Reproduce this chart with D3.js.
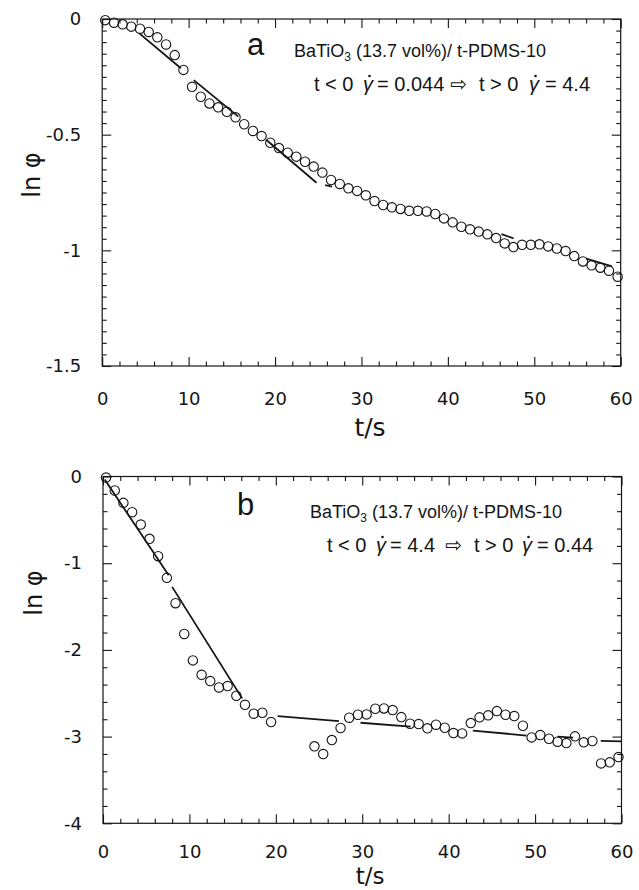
<!DOCTYPE html>
<html>
<head>
<meta charset="utf-8">
<script src="https://cdn.jsdelivr.net/npm/d3@7/dist/d3.min.js"></script>
<style>
  html, body { margin: 0; padding: 0; background: #fff; }
  svg { display: block; }
</style>
</head>
<body>
<script>
// Sampling times (s), shared by both runs
const times = [0.35, 1.36, 2.36, 3.37, 4.37, 5.38, 6.38, 7.39, 8.39, 9.40,
  10.40, 11.41, 12.41, 13.42, 14.42, 15.43, 16.43, 17.44, 18.44, 19.45,
  20.45, 21.46, 22.46, 23.47, 24.47, 25.48, 26.48, 27.49, 28.49, 29.50,
  30.50, 31.51, 32.51, 33.52, 34.52, 35.53, 36.53, 37.54, 38.54, 39.55,
  40.55, 41.56, 42.56, 43.57, 44.57, 45.58, 46.58, 47.59, 48.59, 49.60,
  50.60, 51.61, 52.61, 53.62, 54.62, 55.63, 56.63, 57.64, 58.64, 59.65];

// (a) shear rate step 0.044 -> 4.4 : ln(phi)
const lnPhiA = [-0.005, -0.016, -0.023, -0.033, -0.042, -0.056, -0.079, -0.110, -0.156, -0.220,
  -0.293, -0.336, -0.365, -0.382, -0.401, -0.425, -0.455, -0.484, -0.506, -0.535,
  -0.558, -0.578, -0.595, -0.617, -0.638, -0.664, -0.696, -0.713, -0.732, -0.743,
  -0.762, -0.787, -0.804, -0.814, -0.821, -0.829, -0.829, -0.832, -0.843, -0.862,
  -0.879, -0.898, -0.909, -0.919, -0.931, -0.947, -0.970, -0.986, -0.976, -0.976,
  -0.974, -0.983, -0.992, -1.003, -1.025, -1.048, -1.065, -1.075, -1.088, -1.114];

// (b) shear rate step 4.4 -> 0.44 : ln(phi); null = no reading
const lnPhiB = [-0.012, -0.161, -0.304, -0.412, -0.554, -0.719, -0.919, -1.169, -1.461, -1.816,
  -2.121, -2.287, -2.360, -2.433, -2.417, -2.529, -2.633, -2.736, -2.725, -2.832,
  null, null, null, null, -3.112, -3.201, -3.040, -2.901, -2.782, -2.748,
  -2.744, -2.679, -2.675, -2.694, -2.775, -2.852, -2.855, -2.905, -2.863, -2.898,
  -2.959, -2.963, -2.844, -2.778, -2.755, -2.706, -2.748, -2.763, -2.875, -3.009,
  -2.982, -3.025, -3.059, -3.075, -2.997, -3.066, -3.051, -3.309, -3.297, -3.236];

// Local linear fits, [t, ln phi] end points
const fitsA = [
  [[4.3, -0.062], [9.1, -0.213]],
  [[10.6, -0.264], [15.75, -0.422]],
  [[19.0, -0.523], [24.8, -0.708]],
  [[25.8, -0.718], [26.6, -0.725]],
  [[46.2, -0.930], [47.6, -0.948]],
  [[56.0, -1.036], [59.0, -1.069]]
];
const fitsB = [
  [[0.2, -0.035], [7.6, -1.138]],
  [[8.0, -1.273], [16.1, -2.559]],
  [[20.2, -2.763], [27.3, -2.821]],
  [[29.8, -2.840], [35.6, -2.886]],
  [[42.8, -2.930], [49.0, -2.988]],
  [[52.6, -3.000], [54.4, -3.013]],
  [[57.6, -3.050], [60.0, -3.055]]
];

const xTicks = [0, 10, 20, 30, 40, 50, 60];
const yTicksA = [0, -0.5, -1, -1.5];
const yTicksB = [0, -1, -2, -3, -4];

const svg = d3.select("body").append("svg")
  .attr("width", 639).attr("height", 890);

const INK = "#151515";
const numFont = "DejaVu Sans";
const txtFont = "Liberation Sans, Arial, sans-serif";

function drawPanel(o) {
  const x = d3.scaleLinear().domain([0, 60]).range([o.left, o.right]);
  const y = d3.scaleLinear().domain(o.yDomain).range([o.bottom, o.top]);
  const g = svg.append("g");

  const minorX = d3.range(0, 60.001, 2).filter(v => v % 10 !== 0);
  const minorY = d3.range(0, o.yDomain[0] * o.minorDiv - 0.5, -1)
    .map(k => k / o.minorDiv)
    .filter(v => Math.abs(v / o.yMajor - Math.round(v / o.yMajor)) > 1e-6);

  const MAJ = 9, MIN = 4.5;
  function tickGroup(axis, tx, ty) {
    const a = g.append("g").attr("transform", `translate(${tx},${ty})`).call(axis);
    a.select(".domain").remove();
    a.selectAll("line").attr("stroke", INK).attr("stroke-width", 1.1);
    a.selectAll("text").attr("fill", INK).attr("font-family", numFont).attr("font-size", 18);
    return a;
  }
  // bottom with labels
  tickGroup(d3.axisBottom(x).tickValues(xTicks).tickFormat(d => String(d))
    .tickSizeInner(-MAJ).tickSizeOuter(0).tickPadding(o.xPad), 0, o.bottom);
  tickGroup(d3.axisBottom(x).tickValues(minorX).tickFormat("")
    .tickSizeInner(-MIN).tickSizeOuter(0), 0, o.bottom);
  // top mirror
  tickGroup(d3.axisTop(x).tickValues(xTicks).tickFormat("")
    .tickSizeInner(-MAJ).tickSizeOuter(0), 0, o.top);
  tickGroup(d3.axisTop(x).tickValues(minorX).tickFormat("")
    .tickSizeInner(-MIN).tickSizeOuter(0), 0, o.top);
  // left with labels
  tickGroup(d3.axisLeft(y).tickValues(o.yTicks).tickFormat(d => String(d))
    .tickSizeInner(-MAJ).tickSizeOuter(0).tickPadding(21), o.left, 0);
  tickGroup(d3.axisLeft(y).tickValues(minorY).tickFormat("")
    .tickSizeInner(-MIN).tickSizeOuter(0), o.left, 0);
  // right mirror
  tickGroup(d3.axisRight(y).tickValues(o.yTicks).tickFormat("")
    .tickSizeInner(-MAJ).tickSizeOuter(0), o.right, 0);
  tickGroup(d3.axisRight(y).tickValues(minorY).tickFormat("")
    .tickSizeInner(-MIN).tickSizeOuter(0), o.right, 0);

  g.append("rect")
    .attr("x", o.left).attr("y", o.top)
    .attr("width", o.right - o.left).attr("height", o.bottom - o.top)
    .attr("fill", "none").attr("stroke", INK).attr("stroke-width", 1.2);

  // axis titles
  g.append("text")
    .attr("x", o.xTitle[0]).attr("y", o.xTitle[1])
    .attr("text-anchor", "middle")
    .attr("font-family", numFont).attr("font-size", o.xTitleSize).attr("fill", INK)
    .text("t/s");
  g.append("text")
    .attr("transform", `translate(${o.yTitle[0]},${o.yTitle[1]}) rotate(-90)`)
    .attr("text-anchor", "middle")
    .attr("font-family", numFont).attr("font-size", 24).attr("fill", INK)
    .text("ln φ");

  // fit lines
  const line = d3.line().x(d => x(d[0])).y(d => y(d[1]));
  g.selectAll(".fit").data(o.fits).enter().append("path")
    .attr("d", line)
    .attr("fill", "none").attr("stroke", INK).attr("stroke-width", 1.8);

  // data points
  const pts = o.times.map((t, i) => [t, o.values[i]]).filter(d => d[1] !== null);
  g.selectAll(".pt").data(pts).enter().append("circle")
    .attr("cx", d => x(d[0])).attr("cy", d => y(d[1]))
    .attr("r", 4.7)
    .attr("fill", "none").attr("stroke", INK).attr("stroke-width", 1.1);

  // panel letter
  g.append("text")
    .attr("x", o.letterPos[0]).attr("y", o.letterPos[1])
    .attr("font-family", txtFont).attr("font-size", 31).attr("fill", INK)
    .text(o.letter);

  // sample line
  const s = g.append("text")
    .attr("x", o.line1[0]).attr("y", o.line1[1])
    .attr("font-family", txtFont).attr("font-size", 18).attr("fill", INK);
  s.append("tspan").text("BaTiO");
  s.append("tspan").attr("font-size", 12).attr("dy", 4).text("3");
  s.append("tspan").attr("dy", -4).text(" (13.7 vol%)/ t-PDMS-10");

  // shear-rate history line
  const yb = o.line2y;
  o.parts.forEach(p => {
    if (p.kind === "gamma") {
      g.append("text").attr("x", p.x).attr("y", yb)
        .attr("font-family", txtFont).attr("font-style", "italic")
        .attr("font-size", 20).attr("fill", INK).text("γ");
      // rate dot over gamma
      g.append("circle").attr("cx", p.x + 6.5).attr("cy", yb - 15)
        .attr("r", 1.3).attr("fill", INK);
    } else {
      g.append("text").attr("x", p.x).attr("y", yb)
        .attr("font-family", p.kind === "arrow" ? "DejaVu Sans" : txtFont)
        .attr("font-size", 20).attr("fill", INK)
        .text(p.text);
    }
  });
}

drawPanel({
  left: 102.2, right: 620.7, top: 19, bottom: 366,
  yDomain: [-1.5, 0], yTicks: yTicksA, yMajor: 0.5, minorDiv: 20,
  times: times, values: lnPhiA, fits: fitsA,
  xPad: 26, xTitle: [370, 436], xTitleSize: 25, yTitle: [40, 175],
  letter: "a", letterPos: [247, 55],
  line1: [294, 57], line2y: 91,
  parts: [
    { kind: "t", x: 314, text: "t < 0" },
    { kind: "gamma", x: 363 },
    { kind: "t", x: 377, text: "= 0.044" },
    { kind: "arrow", x: 450, text: "⇨" },
    { kind: "t", x: 479, text: "t > 0" },
    { kind: "gamma", x: 529 },
    { kind: "t", x: 545, text: "= 4.4" }
  ]
});

drawPanel({
  left: 103, right: 621.5, top: 476.5, bottom: 823.3,
  yDomain: [-4, 0], yTicks: yTicksB, yMajor: 1, minorDiv: 5,
  times: times, values: lnPhiB, fits: fitsB,
  xPad: 22, xTitle: [370, 884], xTitleSize: 23, yTitle: [42, 593],
  letter: "b", letterPos: [237, 515],
  line1: [310, 518], line2y: 552,
  parts: [
    { kind: "t", x: 327, text: "t < 0" },
    { kind: "gamma", x: 376 },
    { kind: "t", x: 390, text: "= 4.4" },
    { kind: "arrow", x: 445, text: "⇨" },
    { kind: "t", x: 474, text: "t > 0" },
    { kind: "gamma", x: 522 },
    { kind: "t", x: 537, text: "= 0.44" }
  ]
});
</script>
</body>
</html>
